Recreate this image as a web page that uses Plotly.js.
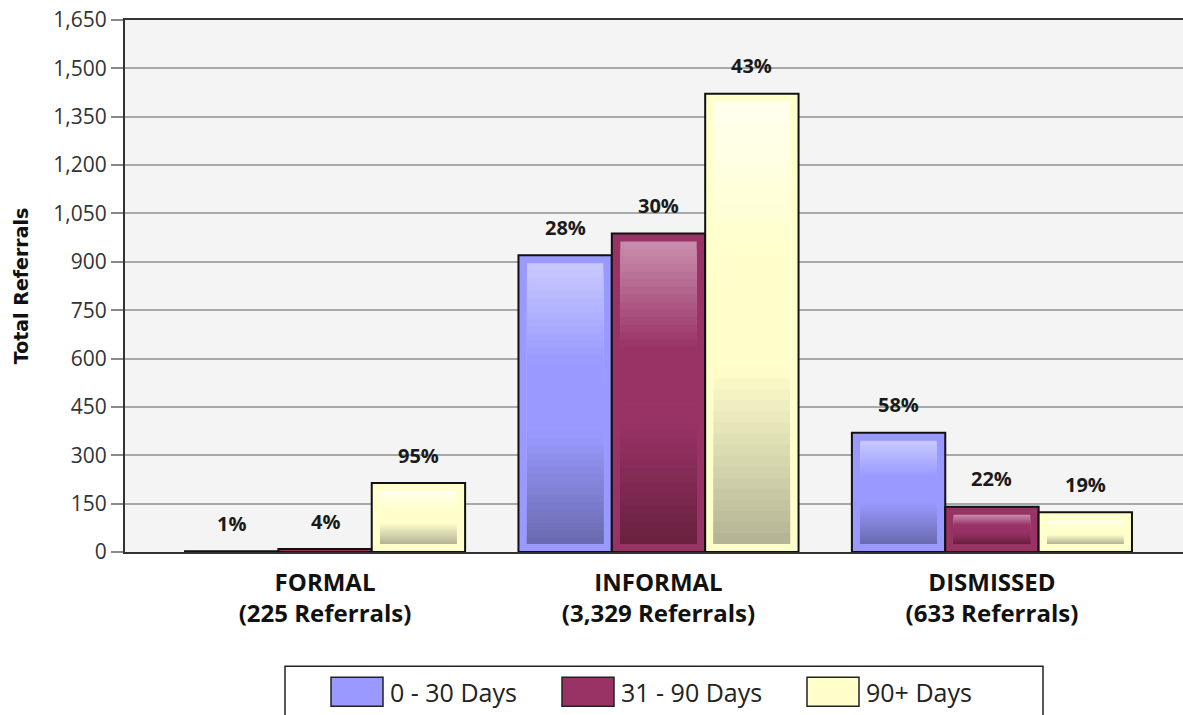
<!DOCTYPE html>
<html>
<head>
<meta charset="utf-8">
<script src="https://cdn.plot.ly/plotly-3.0.1.min.js"></script>
<style>html,body{margin:0;padding:0;background:#fff;overflow:hidden}#chart{width:1183px;height:715px}</style>
</head>
<body>
<div id="chart"></div>
<script>
// ---- data ----
const categories = ["FORMAL", "INFORMAL", "DISMISSED"];
const categoryTotals = ["225", "3,329", "633"];
const seriesNames = ["0 - 30 Days", "31 - 90 Days", "90+ Days"];
const days0to30 = [2, 920, 370];
const days31to90 = [9, 988, 140];
const days90plus = [214, 1421, 123];
const pct0to30 = ["1%", "28%", "58%"];
const pct31to90 = ["4%", "30%", "22%"];
const pct90plus = ["95%", "43%", "19%"];
const yTickVals = [0, 150, 300, 450, 600, 750, 900, 1050, 1200, 1350, 1500, 1650];

// ---- style ----
const colors = ["#9999FF", "#993366", "#FFFFCC"];
const gradTop = ["#c9c9ff", "#c98fae", "#ffffee"];
const gradBottom = ["#6a6aae", "#68213f", "#b3b394"];
const seriesValues = [days0to30, days31to90, days90plus];
const seriesPct = [pct0to30, pct31to90, pct90plus];
const xIdx = categories.map((c, i) => i);
const tickText = categories.map((c, i) => "<b>" + c + "</b><br><b>(" + categoryTotals[i] + " Referrals)</b>");

const barW = 0.28;
const offsets = [-barW, 0, barW];

const traces = seriesNames.map((name, s) => ({
  type: "bar",
  name: name,
  x: xIdx,
  y: seriesValues[s],
  marker: {color: colors[s], line: {color: "#111", width: 2}},
  showlegend: false,
  hoverinfo: "x+y+name"
}));

const L = 125, R = 1183, T = 19.5, B = 552.5;
const xUnitPx = (R - L) / (2.573 + 0.6);
const yUnitPx = (B - T) / 1650;

function hex2rgb(h) { return [1, 3, 5].map(k => parseInt(h.substr(k, 2), 16)); }
function mix(a, b, t) {
  const A = hex2rgb(a), Bc = hex2rgb(b);
  return "rgb(" + A.map((v, k) => Math.round(v + (Bc[k] - v) * t)).join(",") + ")";
}
function gradColor(s, t) {
  if (t < 0.35) return mix(gradTop[s], colors[s], t / 0.35);
  if (t < 0.6) return colors[s];
  return mix(colors[s], gradBottom[s], (t - 0.6) / 0.4);
}

const shapes = [];
// inner glossy gradient panels, positioned from the bar values
const insetX = 8.5 / xUnitPx, insetY = 8 / yUnitPx;
const NSTRIP = 40;
seriesNames.forEach((name, s) => {
  seriesValues[s].forEach((v, i) => {
    if (v < 3 * insetY) return;
    const x0 = i + offsets[s] - barW / 2 + insetX;
    const x1 = i + offsets[s] + barW / 2 - insetX;
    const top = v - insetY, bot = insetY;
    const h = (top - bot) / NSTRIP;
    for (let k = 0; k < NSTRIP; k++) {
      // each strip runs down to the panel bottom; later strips cover lower parts (no seams)
      shapes.push({type: "rect", xref: "x", yref: "y", x0: x0, x1: x1, y0: bot, y1: top - k * h,
        line: {width: 0}, fillcolor: gradColor(s, (k + 0.5) / NSTRIP), layer: "above"});
    }
  });
});

// percentage labels above bars
const annotations = [];
seriesNames.forEach((name, s) => {
  seriesValues[s].forEach((v, i) => {
    annotations.push({
      xref: "x", yref: "y", x: i + offsets[s], y: v,
      text: "<b>" + seriesPct[s][i] + "</b>", showarrow: false,
      yshift: 28, yanchor: "middle",
      font: {family: "Open Sans, sans-serif", size: 20, color: "#1a1a1a"}
    });
  });
});

// custom legend (wide swatches) in paper coordinates
const px = v => (v - L) / (R - L);
const py = v => (B - v) / (B - T);
shapes.push({
  type: "rect", xref: "paper", yref: "paper",
  x0: px(285), x1: px(1043), y0: py(667), y1: py(725),
  line: {color: "#222", width: 1.5}, fillcolor: "#fff", layer: "above"
});
const swatchLeft = [331, 562, 807];
seriesNames.forEach((name, s) => {
  shapes.push({
    type: "rect", xref: "paper", yref: "paper",
    x0: px(swatchLeft[s]), x1: px(swatchLeft[s] + 52), y0: py(678), y1: py(707),
    line: {color: "#222", width: 1.5}, fillcolor: colors[s], layer: "above"
  });
  annotations.push({
    xref: "paper", yref: "paper", x: px(swatchLeft[s] + 57), y: py(693),
    xanchor: "left", yanchor: "middle", showarrow: false, text: name,
    font: {family: "Open Sans, sans-serif", size: 25, color: "#222"}
  });
});

const layout = {
  width: 1183, height: 715,
  margin: {l: L, r: 1183 - R, t: T, b: 715 - B},
  paper_bgcolor: "#ffffff",
  plot_bgcolor: "#f4f4f4",
  barmode: "group",
  bargap: 0.16,
  bargroupgap: 0,
  showlegend: false,
  xaxis: {
    type: "linear", range: [-0.6, 2.573],
    tickvals: xIdx, ticktext: tickText,
    ticks: "", showgrid: false, zeroline: false,
    showline: true, linecolor: "#333", linewidth: 2, mirror: true,
    ticklabelstandoff: 8,
    tickfont: {family: "Open Sans, sans-serif", size: 24, color: "#111"},
    fixedrange: true
  },
  yaxis: {
    range: [0, 1650], tickvals: yTickVals, tickformat: ",d",
    ticks: "outside", ticklen: 12, tickwidth: 2, tickcolor: "#888",
    showgrid: true, gridcolor: "#a8a8a8", gridwidth: 2,
    zeroline: false, showline: true, linecolor: "#333", linewidth: 2,
    tickfont: {family: "Open Sans, sans-serif", size: 21, color: "#333"},
    title: {text: "<b>Total Referrals</b>", standoff: 20,
      font: {family: "DejaVu Sans, sans-serif", size: 19, color: "#111"}},
    fixedrange: true
  },
  annotations: annotations,
  shapes: shapes
};

Plotly.newPlot("chart", traces, layout, {displayModeBar: false, staticPlot: true});
</script>
</body>
</html>
